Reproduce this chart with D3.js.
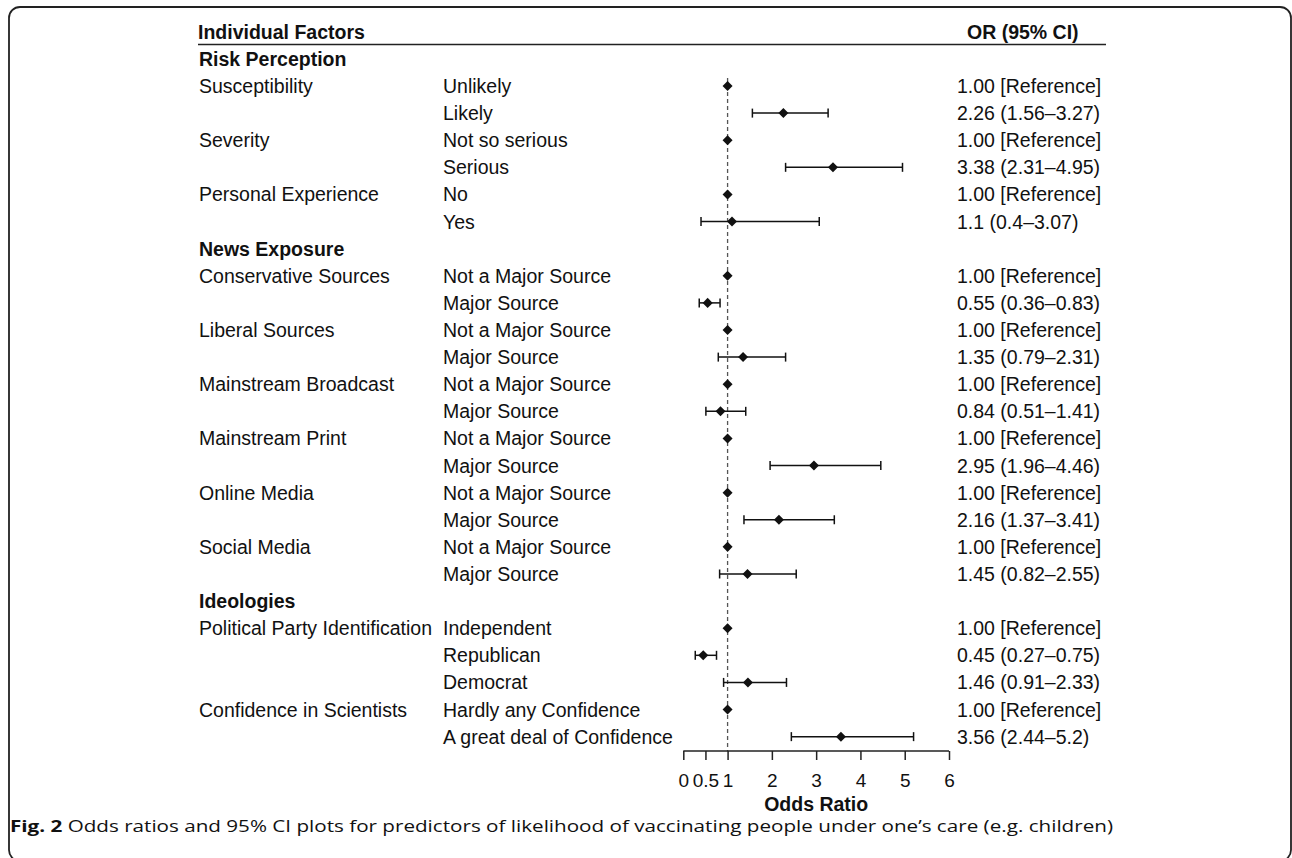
<!DOCTYPE html>
<html>
<head>
<meta charset="utf-8">
<script src="https://cdn.jsdelivr.net/npm/d3@7"></script>
<style>
  html, body { margin: 0; padding: 0; background: #fff; }
  svg { display: block; }
</style>
</head>
<body>
<svg id="chart" width="1292" height="858"></svg>
<script>
// ---- Data ----
const factorLabels = ["Risk Perception", "Susceptibility", "", "Severity", "", "Personal Experience", "",
  "News Exposure", "Conservative Sources", "", "Liberal Sources", "", "Mainstream Broadcast", "",
  "Mainstream Print", "", "Online Media", "", "Social Media", "",
  "Ideologies", "Political Party Identification", "", "", "Confidence in Scientists", ""];
const sectionHeaders = ["Risk Perception", "News Exposure", "Ideologies"];
const levelLabels = ["", "Unlikely", "Likely", "Not so serious", "Serious", "No", "Yes",
  "", "Not a Major Source", "Major Source", "Not a Major Source", "Major Source", "Not a Major Source", "Major Source",
  "Not a Major Source", "Major Source", "Not a Major Source", "Major Source", "Not a Major Source", "Major Source",
  "", "Independent", "Republican", "Democrat", "Hardly any Confidence", "A great deal of Confidence"];
const oddsRatios = [null, 1.00, 2.26, 1.00, 3.38, 1.00, 1.1,
  null, 1.00, 0.55, 1.00, 1.35, 1.00, 0.84, 1.00, 2.95, 1.00, 2.16, 1.00, 1.45,
  null, 1.00, 0.45, 1.46, 1.00, 3.56];
const ciLower = [null, null, 1.56, null, 2.31, null, 0.4,
  null, null, 0.36, null, 0.79, null, 0.51, null, 1.96, null, 1.37, null, 0.82,
  null, null, 0.27, 0.91, null, 2.44];
const ciUpper = [null, null, 3.27, null, 4.95, null, 3.07,
  null, null, 0.83, null, 2.31, null, 1.41, null, 4.46, null, 3.41, null, 2.55,
  null, null, 0.75, 2.33, null, 5.2];
const orLabels = ["", "1.00 [Reference]", "2.26 (1.56\u20133.27)", "1.00 [Reference]", "3.38 (2.31\u20134.95)",
  "1.00 [Reference]", "1.1 (0.4\u20133.07)",
  "", "1.00 [Reference]", "0.55 (0.36\u20130.83)", "1.00 [Reference]", "1.35 (0.79\u20132.31)",
  "1.00 [Reference]", "0.84 (0.51\u20131.41)", "1.00 [Reference]", "2.95 (1.96\u20134.46)",
  "1.00 [Reference]", "2.16 (1.37\u20133.41)", "1.00 [Reference]", "1.45 (0.82\u20132.55)",
  "", "1.00 [Reference]", "0.45 (0.27\u20130.75)", "1.46 (0.91\u20132.33)",
  "1.00 [Reference]", "3.56 (2.44\u20135.2)"];
const tickValues = [0, 0.5, 1, 2, 3, 4, 5, 6];
const tickLabels = ["0", "0.5", "1", "2", "3", "4", "5", "6"];
const headerLeft = "Individual Factors";
const headerRight = "OR (95% CI)";
const axisTitle = "Odds Ratio";
const captionBold = "Fig. 2";
const captionText = " Odds ratios and 95% CI plots for predictors of likelihood of vaccinating people under one\u2019s care (e.g. children)";

// ---- Layout ----
const svg = d3.select("#chart");
const FONT = "'Liberation Sans', Arial, Helvetica, sans-serif";
const FS = 19.5;
const ink = "#111";

// border
svg.append("rect").attr("x", 9).attr("y", 7).attr("width", 1282).attr("height", 854)
  .attr("rx", 11).attr("fill", "none").attr("stroke", "#222").attr("stroke-width", 1.8);

const x = d3.scaleLinear().domain([0, 6]).range([683.3, 949]);
const nRows = factorLabels.length;
const y = d3.scaleLinear().domain([-1, nRows - 1]).range([86 - 2 * 27.11, 86 + (nRows - 2) * 27.11]);

const colFactor = 199, colLevel = 443, colOR = 957;
const base = 7;

// header
svg.append("text").attr("x", 198).attr("y", y(-1) + base).text(headerLeft)
  .attr("font-family", FONT).attr("font-size", FS).attr("font-weight", "bold").attr("fill", ink);
svg.append("text").attr("x", 967).attr("y", y(-1) + base).text(headerRight)
  .attr("font-family", FONT).attr("font-size", FS).attr("font-weight", "bold").attr("fill", ink);
svg.append("line").attr("x1", 198).attr("x2", 1106).attr("y1", 44.5).attr("y2", 44.5)
  .attr("stroke", "#222").attr("stroke-width", 1.5);

const rows = d3.range(nRows);
const g = svg.append("g").attr("font-family", FONT).attr("font-size", FS).attr("fill", ink);

g.selectAll("text.factor").data(rows).join("text")
  .attr("class", "factor")
  .attr("x", colFactor).attr("y", i => y(i) + base)
  .attr("font-weight", i => sectionHeaders.includes(factorLabels[i]) ? "bold" : "normal")
  .text(i => factorLabels[i]);

g.selectAll("text.level").data(rows).join("text")
  .attr("class", "level")
  .attr("x", colLevel).attr("y", i => y(i) + base)
  .text(i => levelLabels[i]);

g.selectAll("text.or").data(rows).join("text")
  .attr("class", "or")
  .attr("x", colOR).attr("y", i => y(i) + base)
  .text(i => orLabels[i]);

// reference dashed line
svg.append("line").attr("x1", x(1)).attr("x2", x(1)).attr("y1", 78).attr("y2", 751)
  .attr("stroke", "#555").attr("stroke-width", 1.3).attr("stroke-dasharray", "4,3");

// CI bars
const ciRows = rows.filter(i => ciLower[i] != null);
const bars = svg.append("g").attr("stroke", ink).attr("stroke-width", 1.5);
bars.selectAll("line.ci").data(ciRows).join("line")
  .attr("x1", i => x(ciLower[i])).attr("x2", i => x(ciUpper[i]))
  .attr("y1", i => y(i)).attr("y2", i => y(i));
bars.selectAll("line.capL").data(ciRows).join("line")
  .attr("x1", i => x(ciLower[i])).attr("x2", i => x(ciLower[i]))
  .attr("y1", i => y(i) - 4.5).attr("y2", i => y(i) + 4.5);
bars.selectAll("line.capR").data(ciRows).join("line")
  .attr("x1", i => x(ciUpper[i])).attr("x2", i => x(ciUpper[i]))
  .attr("y1", i => y(i) - 4.5).attr("y2", i => y(i) + 4.5);

// point markers (diamonds)
const ptRows = rows.filter(i => oddsRatios[i] != null);
svg.append("g").selectAll("path").data(ptRows).join("path")
  .attr("transform", i => `translate(${x(oddsRatios[i])},${y(i)})`)
  .attr("d", d3.symbol(d3.symbolDiamond2, 64)())
  .attr("fill", ink);

// axis
const axisG = svg.append("g").attr("transform", "translate(0,751)")
  .call(d3.axisBottom(x).tickValues(tickValues).tickFormat((d, i) => tickLabels[i]).tickSize(9).tickPadding(14));
axisG.select(".domain").attr("stroke", "#222").attr("stroke-width", 1.5)
  .attr("d", `M${x(0)},0H${x(6)}`);
axisG.selectAll(".tick line").attr("stroke", "#222").attr("stroke-width", 1.5);
axisG.selectAll(".tick text").attr("font-family", FONT).attr("font-size", 19).attr("fill", ink);

svg.append("text").attr("x", (x(0) + x(6)) / 2).attr("y", 811).attr("text-anchor", "middle")
  .attr("font-family", FONT).attr("font-size", FS).attr("font-weight", "bold").attr("fill", ink)
  .text(axisTitle);

// caption
const cap = svg.append("text").attr("x", 10).attr("y", 832)
  .attr("font-family", "'Open Sans', 'Noto Sans', sans-serif").attr("font-size", 16)
  .attr("textLength", 1103).attr("lengthAdjust", "spacingAndGlyphs").attr("fill", ink);
cap.append("tspan").attr("font-weight", "bold").text(captionBold);
cap.append("tspan").text(captionText);
</script>
</body>
</html>
